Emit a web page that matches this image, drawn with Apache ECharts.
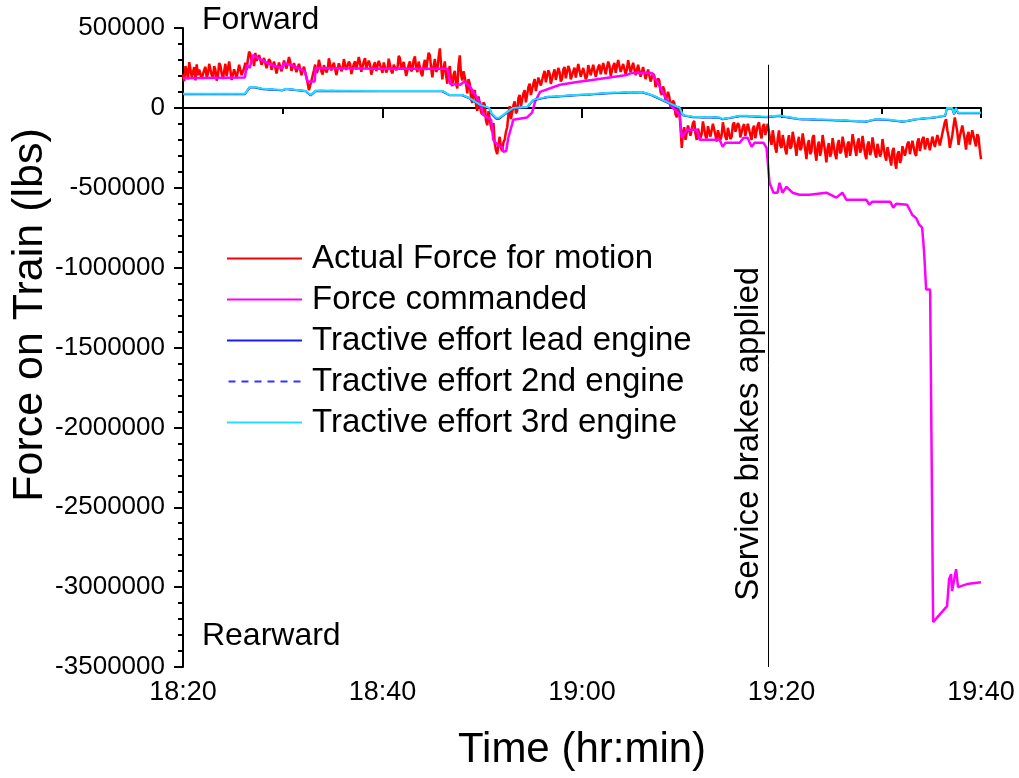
<!DOCTYPE html>
<html>
<head>
<meta charset="utf-8">
<script src="https://cdn.jsdelivr.net/npm/echarts@6/dist/echarts.min.js"></script>
<style>
html,body{margin:0;padding:0;background:#fff;}
#chart{width:1019px;height:778px;}
</style>
</head>
<body>
<div id="chart"></div>
<script>
// ---- DATA (time in minutes after 18:20, force in thousands of lbs) ----
const xTickLabels = ['18:20', '18:40', '19:00', '19:20', '19:40'];
const seriesNames = ['Actual Force for motion', 'Force commanded', 'Tractive effort lead engine', 'Tractive effort 2nd engine', 'Tractive effort 3rd engine'];

// Actual force sampled every 0.125 min (7.5 s), one row per minute, from 18:20 to 19:40
const actualStepMin = 0.125;
const actualForce = [
  210,168,262,231,178,286,241,195,  196,255,172,272,205,240,251,183,  172,238,257,190,214,276,283,206,
  186,262,238,171,199,281,266,215,  181,230,276,198,208,290,236,174,  166,241,252,189,194,270,261,205,
  205,248,282,236,301,352,338,290,  309,262,344,295,288,331,322,270,  268,312,303,248,246,305,291,238,
  236,290,287,215,221,284,276,229,  241,296,302,246,254,318,287,232,  229,280,291,223,219,276,271,205,
  214,258,266,190,152,110,118,170,  176,236,271,218,232,301,292,227,  209,268,276,222,241,310,301,234,
  224,283,271,205,214,279,286,230,  246,305,299,238,231,290,276,212,  214,275,291,240,251,318,281,226,
  226,290,311,245,239,296,271,208,  209,266,286,230,236,295,302,244,  219,284,276,222,241,308,296,231,
  216,270,281,236,249,326,312,240,  229,288,276,199,206,270,291,228,  241,300,322,250,224,290,286,215,
  199,268,301,236,239,345,331,248,  191,262,306,226,239,318,372,265,  179,250,291,200,151,235,261,170,
  136,210,231,150,121,270,329,205,  171,230,241,152,91,180,151,62,    31,98,111,20,-19,72,61,-25,
  -41,35,21,-78,-109,-20,-29,-120,  -151,-95,-221,-265,-289,-230,-181,-250,  -271,-215,-199,-150,-121,-40,11,-70,
  -61,15,41,-35,-19,60,81,10,       21,90,111,35,41,130,151,80,       81,150,181,105,111,190,201,140,
  141,205,231,160,161,235,216,150,  151,215,241,175,171,250,226,165,  181,240,256,185,191,262,241,178,
  166,230,251,190,201,275,266,195,  186,250,246,180,196,268,276,205,  211,270,261,195,191,255,271,210,
  216,280,286,210,221,290,266,200,  201,262,281,220,231,300,291,225,  216,275,271,210,241,298,286,222,
  226,282,276,205,216,270,261,195,  201,256,246,180,181,240,231,165,  161,215,201,130,121,185,171,100,
  81,135,111,40,41,100,71,5,        1,45,31,-40,-59,10,-9,-120,
  -251,-150,-121,-200,-189,-110,-101,-175,  -171,-95,-81,-160,-201,-130,-121,-190,  -161,-85,-91,-175,-191,-115,-111,-180,
  -181,-100,-96,-170,-211,-140,-131,-200,   -171,-90,-101,-180,-201,-125,-121,-195,  -181,-105,-91,-150,-161,-95,-111,-185,
  -196,-120,-101,-175,-171,-100,-96,-170,   -201,-130,-111,-190,-181,-105,-91,-160,  -191,-115,-101,-170,-171,-100,-111,-200,
  -231,-140,-151,-250,-281,-190,-141,-235,  -251,-170,-161,-260,-291,-210,-171,-255,  -241,-150,-141,-240,-301,-215,-181,-265,
  -251,-160,-151,-260,-321,-230,-201,-290,  -271,-185,-171,-280,-331,-240,-211,-300,  -261,-170,-161,-275,-341,-250,-221,-305,
  -281,-190,-181,-290,-321,-230,-201,-285,  -271,-180,-171,-265,-311,-225,-211,-300,  -251,-165,-161,-255,-301,-215,-191,-280,
  -261,-175,-181,-290,-321,-230,-211,-295,  -271,-185,-191,-285,-311,-225,-221,-305,  -281,-195,-201,-300,-331,-245,-241,-320,
  -361,-270,-251,-340,-381,-290,-271,-345,  -321,-240,-231,-300,-311,-225,-211,-290,  -291,-205,-201,-285,-301,-215,-191,-270,
  -281,-195,-181,-260,-271,-190,-191,-265,  -261,-180,-171,-245,-251,-170,-161,-235,  -241,-160,-151,-90,-71,-140,-181,-250,
  -261,-170,-111,-60,-61,-150,-231,-180,    -171,-110,-121,-200,-261,-175,-151,-230,  -221,-140,-131,-210,-241,-165,-181,-260,
  -321
];

// Force commanded: [minute, value]
const commandedTimes = [0,6.2,6.4,6.7,7.0,7.3,8.2,9,10,10.1,11,12.2,12.5,13.2,13.3,20,26.5,26.8,27.8,28.2,28.8,29.8,30.1,30.9,31.1,31.5,32.0,32.1,32.4,32.6,33.0,33.1,34.5,35.0,35.3,35.8,37.8,39.5,41,44.5,45,47,47.3,47.8,48.5,49.1,49.8,50.0,50.5,51.5,51.8,53.8,54.1,54.4,55.8,56.2,56.6,57.0,57.3,58.2,58.5,58.8,59.2,59.6,59.8,60.1,60.5,61.1,61.8,62.8,64.5,65.5,66.1,66.5,68.5,68.8,69.1,70.9,71.2,71.5,72.6,73.1,73.5,73.8,74.1,74.3,74.5,74.9,75.2,76.6,76.8,77.0,77.1,77.5,77.7,78.6,80];
const commandedForce = [185,190,270,250,330,320,290,265,250,280,265,230,165,165,250,245,245,150,145,165,131,31,-44,-75,-200,-230,-245,-275,-270,-190,-100,-75,-60,-30,40,100,145,162,175,206,219,219,187,131,50,0,-44,-187,-137,-137,-200,-200,-244,-219,-219,-187,-187,-244,-219,-219,-250,-469,-531,-531,-469,-531,-494,-531,-544,-544,-531,-562,-531,-575,-575,-606,-587,-587,-625,-600,-606,-669,-690,-731,-750,-906,-1137,-1137,-3219,-3119,-2950,-2919,-3025,-2888,-3000,-2981,-2969];

// Tractive effort lead engine
const leadTimes = [0,6.2,6.7,7.2,8,10,10.3,12.3,12.8,13.3,20,26,26.7,28,28.7,29.8,30.7,30.9,31.4,31.7,32.1,33.1,34.5,35.1,36.5,39.5,42.8,46,47,48.5,49.8,50.1,51.1,53.8,54.1,55.8,56.5,58.5,59.8,60.5,61.8,65,68.5,69.5,70.9,72.2,73.6,75.2,76.4,76.6,77.1,77.3,77.5,77.7,80];
const leadForce = [86,86,128,128,117,110,118,104,78,106,104,104,79,79,60,17,-3,-35,-68,-68,-48,-3,4,47,67,79,92,98,79,35,-2,-47,-58,-62,-72,-53,-52,-58,-51,-58,-71,-77,-87,-71,-77,-87,-71,-62,-50,-4,-4,-39,-4,-33,-33];

// Tractive effort 2nd engine
const secondTimes = [0,6.2,6.7,7.2,8,10,10.3,12.3,12.8,13.3,20,26,26.7,28,28.7,29.8,30.7,30.9,31.4,31.7,32.1,33.1,34.5,35.1,36.5,39.5,42.8,46,47,48.5,49.8,50.1,51.1,53.8,54.1,55.8,56.5,58.5,59.8,60.5,61.8,65,68.5,69.5,70.9,72.2,73.6,75.2,76.4,76.6,77.1,77.3,77.5,77.7,80];
const secondForce = [87,87,130,130,118,111,119,105,80,107,105,105,80,80,61,18,-1,-33,-65,-65,-46,-1,5,49,68,80,93,99,80,36,-1,-45,-57,-61,-70,-51,-51,-57,-49,-57,-70,-76,-86,-70,-76,-86,-70,-61,-49,-2,-2,-38,-2,-32,-32];

// Tractive effort 3rd engine
const thirdTimes = [0,6.2,6.7,7.2,8,10,10.3,12.3,12.8,13.3,20,26,26.7,28,28.7,29.8,30.7,30.9,31.4,31.7,32.1,33.1,34.5,35.1,36.5,39.5,42.8,46,47,48.5,49.8,50.1,51.1,53.8,54.1,55.8,56.5,58.5,59.8,60.5,61.8,65,68.5,69.5,70.9,72.2,73.6,75.2,76.4,76.6,77.1,77.3,77.5,77.7,80];
const thirdForce = [88,88,131,131,119,112,120,106,81,108,106,106,81,81,62,19,0,-31,-62,-62,-44,0,6,50,69,81,94,100,81,37,0,-44,-56,-60,-69,-50,-50,-56,-48,-56,-69,-75,-85,-69,-75,-85,-69,-60,-48,0,0,-37,0,-31,-31];

// Service brakes marker
const brakeTimeMin = 58.65;
const brakeLineTop = 270; // thousands of lbs
// ---- END DATA ----

const K = 1000;
function pairs(times, vals) { return times.map((t, i) => [t, vals[i] * K]); }
const actualData = actualForce.map((v, i) => [i * actualStepMin, v * K]);

function fmtTime(v) {
  const total = 20 + v;
  const h = 18 + Math.floor(total / 60);
  const m = Math.round(total % 60);
  return h + ':' + (m < 10 ? '0' + m : m);
}

const FONT = '"Liberation Sans", Arial, sans-serif';
const chart = echarts.init(document.getElementById('chart'), null, {renderer: 'canvas'});

const baseLine = {type: 'line', symbol: 'none', showSymbol: false, animation: false, silent: true};
const solidIcon = 'path://M0,0h75v2h-75z';
const dashIcon = 'path://M0,0h7v2h-7z M13,0h7v2h-7z M26,0h7v2h-7z M39,0h7v2h-7z M52,0h7v2h-7z M65,0h7v2h-7z';
const legendColors = ['#FF0000', '#FF00FF', '#1A1AFF', '#3333FF', '#22DDFF'];

const option = {
  animation: false,
  backgroundColor: '#ffffff',
  textStyle: {fontFamily: FONT},
  grid: {left: 183, right: 38, top: 28, bottom: 111, containLabel: false},
  legend: {
    orient: 'vertical', left: 227, top: 238, padding: 0,
    itemWidth: 75, itemHeight: 2, itemGap: 0,
    textStyle: {fontFamily: FONT, fontSize: 33, color: '#000', lineHeight: 41, padding: [0, 0, 0, 5]},
    data: seriesNames.map((n, i) => ({name: n, icon: i === 3 ? dashIcon : solidIcon,
      itemStyle: {color: legendColors[i]}}))
  },
  xAxis: {
    type: 'value', min: 0, max: 80, interval: 20,
    axisLine: {lineStyle: {color: '#000', width: 2}},
    axisTick: {show: true, inside: false, length: 10, lineStyle: {color: '#000', width: 2}},
    minorTick: {show: true, splitNumber: 2, length: 6, lineStyle: {color: '#000', width: 2}},
    splitLine: {show: false},
    axisLabel: {fontFamily: FONT, fontSize: 27, color: '#000', margin: 12,
      formatter: function (v) { return xTickLabels[Math.round(v / 20)] || fmtTime(v); }},
    name: 'Time (hr:min)', nameLocation: 'middle', nameGap: 62,
    nameTextStyle: {fontFamily: FONT, fontSize: 42, color: '#000'}
  },
  yAxis: {
    type: 'value', min: -3500000, max: 500000, interval: 500000,
    axisLine: {show: true, lineStyle: {color: '#000', width: 2}},
    axisTick: {show: true, inside: false, length: 9, lineStyle: {color: '#000', width: 2}},
    minorTick: {show: true, splitNumber: 5, length: 5, lineStyle: {color: '#000', width: 2}},
    splitLine: {show: false},
    axisLabel: {fontFamily: FONT, fontSize: 26, color: '#000', margin: 18,
      formatter: function (v) { return String(v); }}
  },
  series: [
    Object.assign({}, baseLine, {name: seriesNames[0], data: actualData,
      lineStyle: {color: '#FF0000', width: 2.5}, itemStyle: {color: '#FF0000'}}),
    Object.assign({}, baseLine, {name: seriesNames[1], data: pairs(commandedTimes, commandedForce),
      lineStyle: {color: '#FF00FF', width: 2.5}, itemStyle: {color: '#FF00FF'},
      markLine: {silent: true, symbol: ['none', 'none'], animation: false,
        lineStyle: {color: '#000', width: 1, type: 'solid'}, label: {show: false},
        data: [[{coord: [brakeTimeMin, -3500000]}, {coord: [brakeTimeMin, brakeLineTop * K]}]]}}),
    Object.assign({}, baseLine, {name: seriesNames[2], data: pairs(leadTimes, leadForce),
      lineStyle: {color: '#1A1AFF', width: 2}, itemStyle: {color: '#1A1AFF'}}),
    Object.assign({}, baseLine, {name: seriesNames[3], data: pairs(secondTimes, secondForce),
      lineStyle: {color: '#3333FF', width: 2, type: [6, 5]}, itemStyle: {color: '#3333FF'}}),
    Object.assign({}, baseLine, {name: seriesNames[4], data: pairs(thirdTimes, thirdForce),
      lineStyle: {color: '#22DDFF', width: 2}, itemStyle: {color: '#22DDFF'}})
  ]
};
chart.setOption(option);

// Text annotations anchored in data space
const pF = chart.convertToPixel({gridIndex: 0}, [1.9, 550000]);
const pR = chart.convertToPixel({gridIndex: 0}, [1.9, -3306000]);
const pB = chart.convertToPixel({gridIndex: 0}, [56.75, -2040000]);
chart.setOption({
  graphic: [
    {type: 'text', x: pF[0], y: pF[1], silent: true,
      style: {text: 'Forward', fill: '#000', font: '32px ' + FONT, textAlign: 'left', textVerticalAlign: 'middle'}},
    {type: 'text', x: pR[0], y: pR[1], silent: true,
      style: {text: 'Rearward', fill: '#000', font: '32px ' + FONT, textAlign: 'left', textVerticalAlign: 'middle'}},
    {type: 'text', x: pB[0], y: pB[1], rotation: Math.PI / 2, silent: true,
      style: {text: 'Service brakes applied', fill: '#000', font: '33px ' + FONT, textAlign: 'center', textVerticalAlign: 'middle'}},
    {type: 'text', x: 30, y: 315, rotation: Math.PI / 2, silent: true,
      style: {text: 'Force on Train (lbs)', fill: '#000', font: '43px ' + FONT, textAlign: 'center', textVerticalAlign: 'middle'}}
  ]
});
</script>
</body>
</html>
